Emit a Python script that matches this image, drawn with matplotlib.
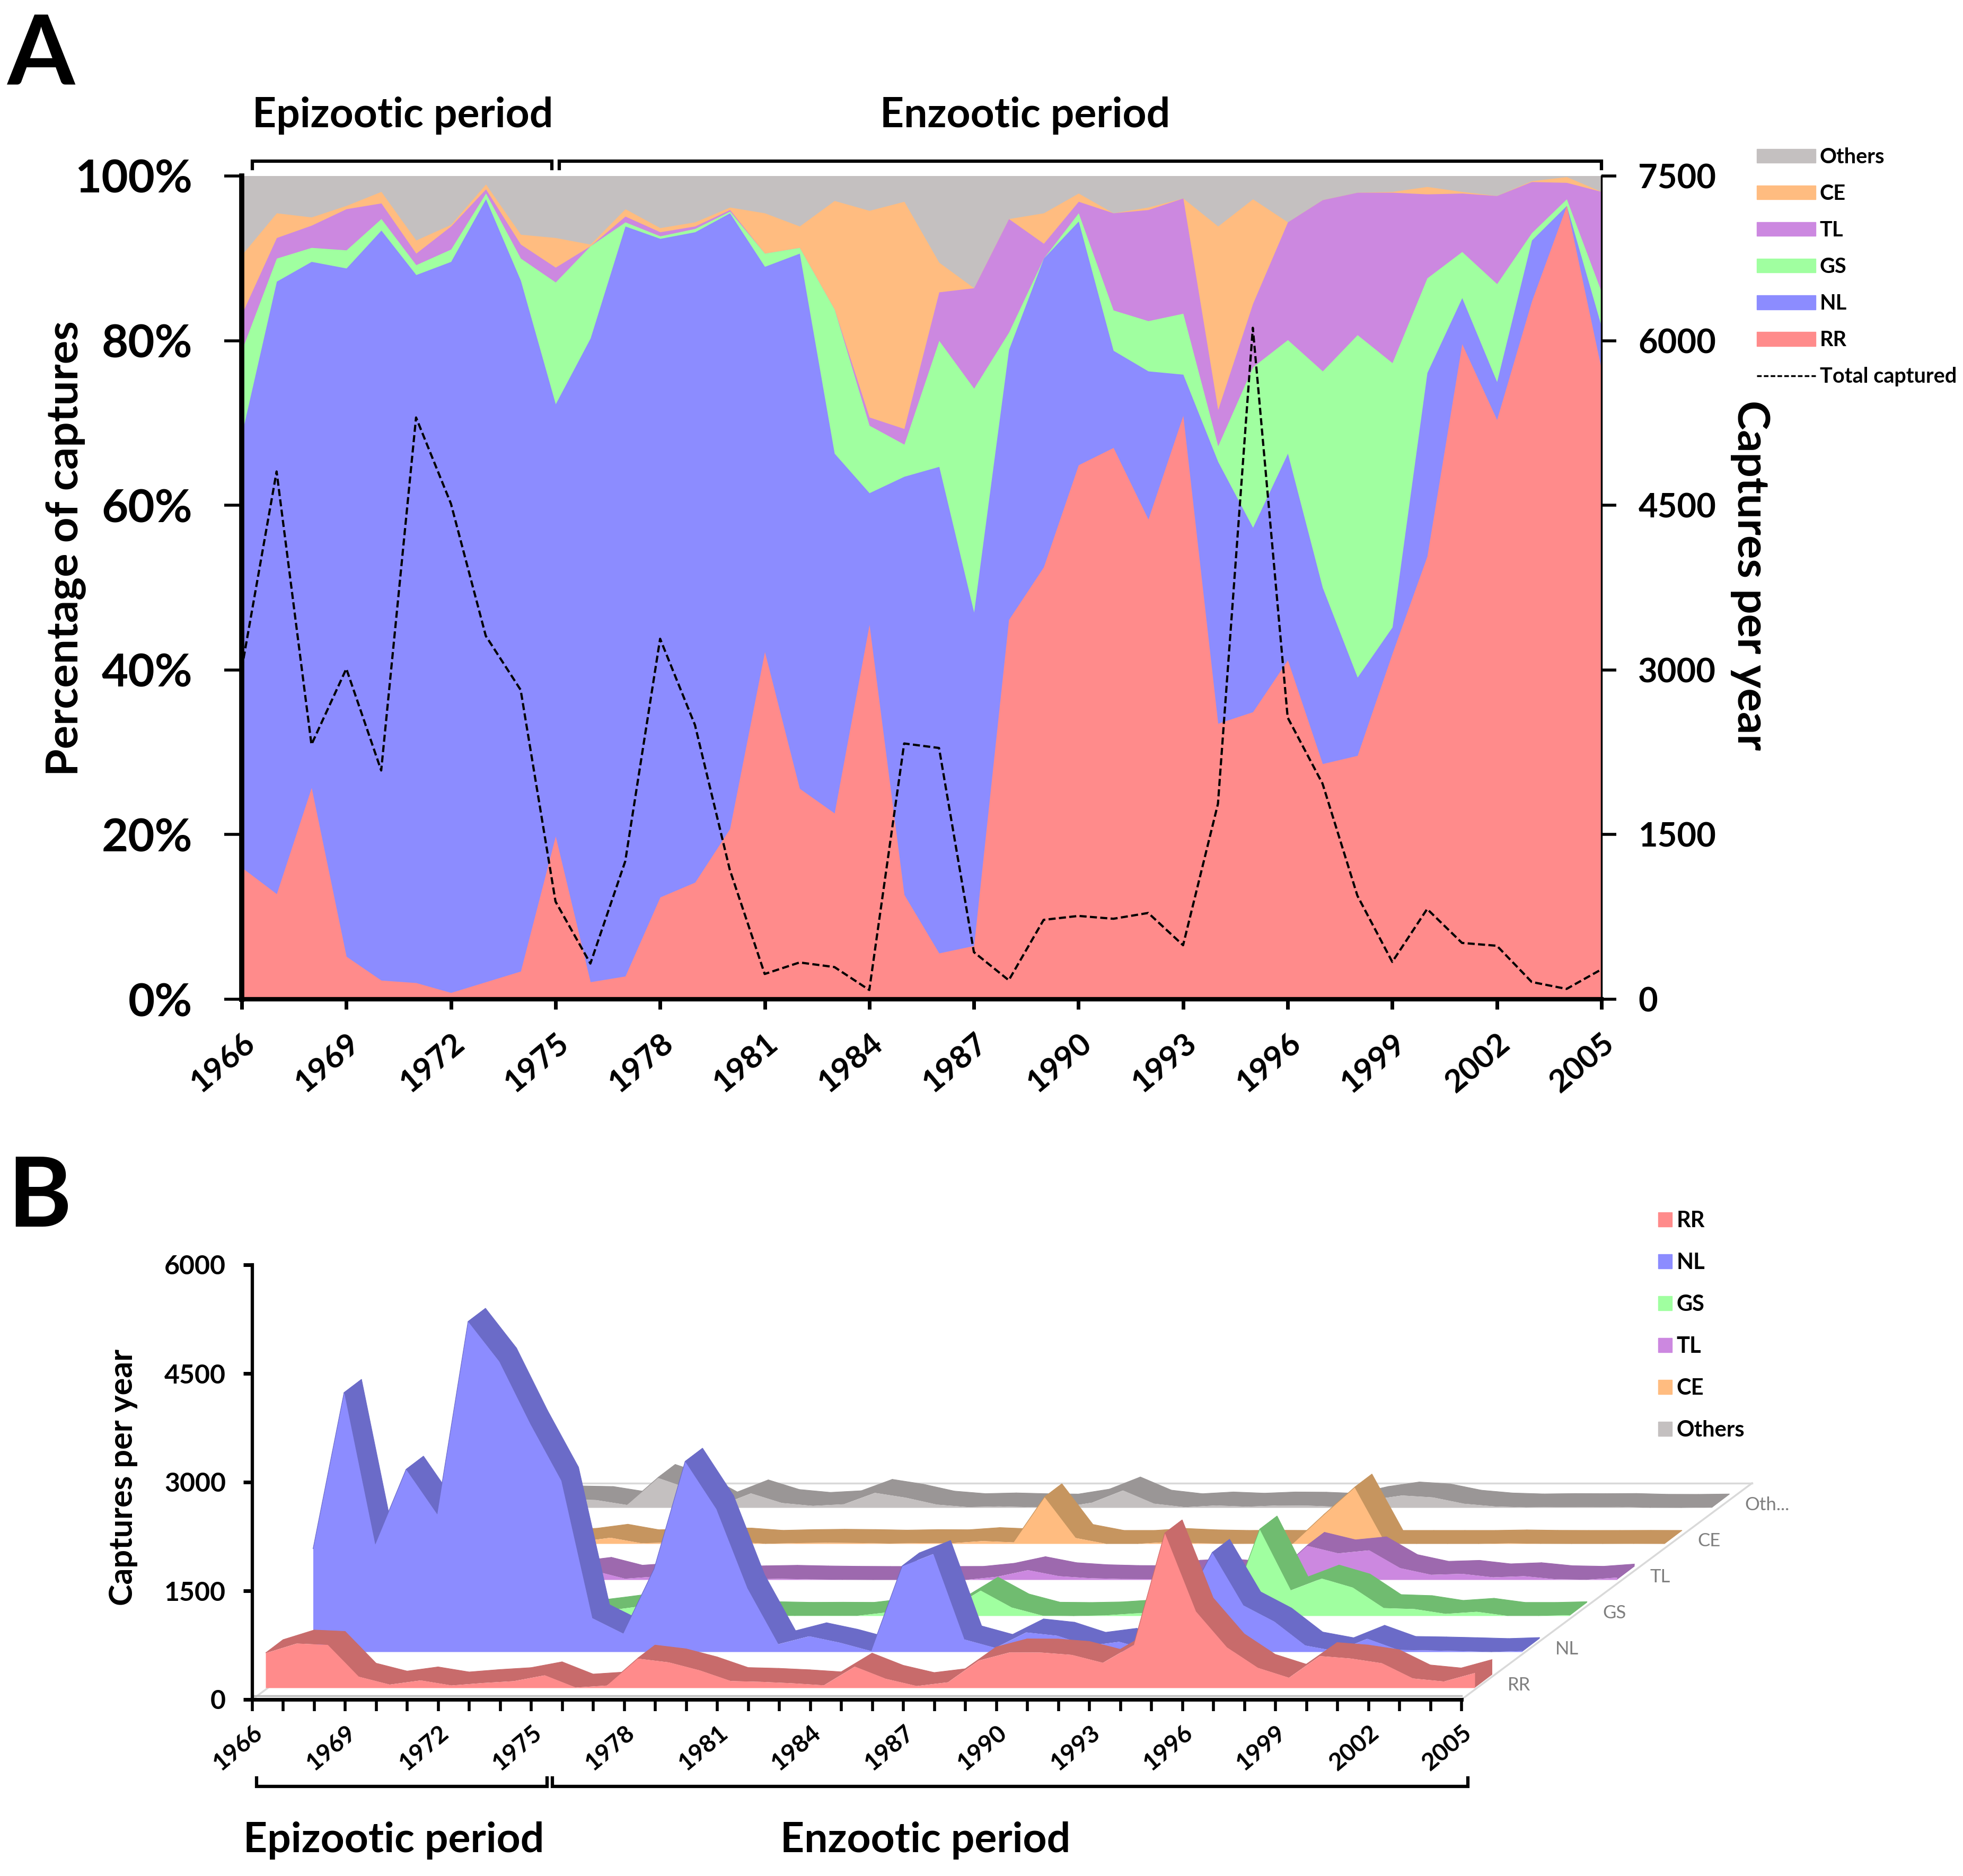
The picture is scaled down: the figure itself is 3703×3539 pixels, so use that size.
import numpy as np
import matplotlib
matplotlib.use("Agg")
import matplotlib.pyplot as plt
from matplotlib.lines import Line2D
from matplotlib.patches import Patch
from matplotlib.transforms import Affine2D, blended_transform_factory

plt.rcParams['font.family'] = ['Lato', 'DejaVu Sans']

years = list(range(1966, 2006))
tick_years = list(range(1966, 2006, 3))

# panel A, upper edge of each stacked layer (percent)
rr_top = [16, 12.8, 25.7, 5.2, 2.3, 2, 0.8, 2.1, 3.4, 19.8, 2.1, 2.8, 12.4, 14.2, 20.7, 42.2, 25.6, 22.6, 45.5, 12.7,
          5.6, 6.5, 46.1, 52.5, 64.9, 67, 58.3, 70.9, 33.5, 34.9, 41.2, 28.6, 29.6, 42, 53.8, 79.6, 70.4, 84.8, 96.4, 76.5]
nl_top = [68.6, 87.2, 89.6, 88.8, 93.4, 88, 89.6, 97.2, 87.3, 72.3, 80.3, 93.9, 92.4, 93.2, 95.5, 89, 90.6, 66.3, 61.5, 63.5,
          64.7, 47, 78.9, 90, 94.5, 78.8, 76.3, 75.9, 65.3, 57.3, 66.3, 50, 39.1, 45.2, 76.1, 85.2, 75, 92.2, 96.4, 81.7]
gs_top = [78.8, 90, 91.3, 91, 94.8, 89.2, 91.1, 97.9, 90, 87.1, 91.5, 94.4, 92.7, 93.6, 95.7, 90.6, 91.3, 83.8, 69.7, 67.4,
          80, 74.2, 81, 90, 95.5, 83.7, 82.4, 83.3, 67.2, 76.8, 80.1, 76.3, 80.7, 77.3, 87.6, 90.8, 86.9, 93.1, 97.2, 85.9]
tl_top = [83.2, 92.5, 94, 96, 96.7, 90.6, 93.9, 98.4, 91.7, 88.9, 91.5, 95.1, 93.2, 93.9, 95.9, 90.6, 91.3, 83.8, 70.7, 69.3,
          85.9, 86.4, 94.8, 91.8, 96.9, 95.5, 95.9, 97.3, 71.6, 84.5, 94.4, 97.1, 98, 98, 97.8, 97.9, 97.6, 99.3, 99.2, 98.1]
ce_top = [90.4, 95.5, 95, 96.4, 98.1, 92.2, 94.1, 99, 92.9, 92.5, 91.7, 96, 93.7, 94.4, 96.2, 95.5, 93.9, 97, 95.8, 96.9,
          89.5, 86.4, 94.8, 95.5, 97.9, 95.5, 96.2, 97.3, 93.9, 97.2, 94.4, 97.1, 98, 98.1, 98.7, 98.1, 97.6, 99.4, 99.9, 98.1]
total_captured = [3011, 4808, 2320, 3011, 2084, 5300, 4515, 3310, 2818, 890, 325, 1257, 3284, 2498, 1178, 230, 335, 293, 84, 2330,
                  2289, 429, 173, 723, 759, 733, 786, 492, 1780, 6117, 2566, 1964, 943, 340, 822, 513, 487, 157, 94, 272]

# panel B, captures per year
rr_caps = [482, 615, 596, 157, 48, 106, 36, 70, 96, 176, 7, 35, 407, 355, 244, 97, 86, 66, 38, 296,
           128, 28, 80, 380, 493, 491, 458, 349, 596, 2135, 1057, 562, 279, 143, 442, 408, 343, 133, 91, 208]
nl_caps = [1420, 3577, 1482, 2517, 1899, 4558, 4009, 3148, 2364, 467, 254, 1145, 2627, 1973, 881, 108, 218, 128, 13, 1184,
           1353, 174, 57, 271, 225, 86, 141, 25, 566, 1370, 644, 420, 90, 11, 183, 29, 22, 12, 0, 14]
gs_caps = [307, 135, 39, 66, 29, 64, 68, 23, 76, 132, 36, 6, 10, 10, 2, 4, 2, 51, 7, 91,
           350, 117, 4, 0, 8, 36, 48, 36, 34, 1193, 354, 517, 392, 109, 95, 29, 58, 1, 1, 11]
tl_caps = [132, 120, 63, 151, 40, 74, 126, 17, 48, 16, 0, 9, 16, 7, 2, 0, 0, 0, 1, 44,
           135, 52, 24, 13, 11, 86, 106, 69, 78, 471, 367, 409, 163, 71, 84, 36, 52, 10, 2, 33]
ce_caps = [217, 144, 23, 12, 29, 85, 9, 20, 34, 32, 1, 11, 16, 12, 4, 11, 9, 39, 21, 643,
           82, 0, 0, 27, 8, 0, 2, 0, 397, 777, 0, 0, 0, 0, 7, 1, 0, 0, 1, 0]
oth_caps = [289, 216, 116, 108, 40, 413, 266, 33, 200, 67, 27, 50, 207, 140, 45, 10, 20, 9, 4, 72,
            240, 58, 9, 33, 16, 33, 30, 13, 109, 171, 144, 57, 19, 6, 11, 10, 12, 1, 0, 5]

RR, NL, GS, TL, CE, OTH = '#FF8B8B', '#8C8CFF', '#A0FFA0', '#CC88E0', '#FFBC80', '#C4C0C0'
RR_D, NL_D, GS_D, TL_D, CE_D, OTH_D = '#C86B6B', '#6B6BC8', '#70BC70', '#9D69AE', '#C6955F', '#9A9696'

W, H = 3703, 3539
fig = plt.figure(figsize=(W / 100, H / 100), dpi=100, facecolor='white')


def axes_px(left, top, right, bottom):
    return fig.add_axes([left / W, 1 - bottom / H, (right - left) / W, (bottom - top) / H])


def bracket(ax, x0, x1, y_low, y_high, trans):
    ax.plot([x0, x0, x1, x1], [y_low, y_high, y_high, y_low], color='black', lw=4.5,
            transform=trans, clip_on=False, solid_joinstyle='miter')


# ---- panel A ----
ax = axes_px(456, 332, 3021, 1885)
ax.fill_between(years, 0, 100, color=OTH, lw=0)
ax.fill_between(years, 0, ce_top, color=CE, lw=0)
ax.fill_between(years, 0, tl_top, color=TL, lw=0)
ax.fill_between(years, 0, gs_top, color=GS, lw=0)
ax.fill_between(years, 0, nl_top, color=NL, lw=0)
ax.fill_between(years, 0, rr_top, color=RR, lw=0)
ax.set_xlim(1966, 2005)
ax.set_ylim(0, 100)
ax.set_yticks(range(0, 101, 20))
ax.set_yticklabels(['%d%%' % v for v in range(0, 101, 20)], fontsize=62.5, fontweight='bold')
ax.set_xticks(tick_years)
ax.set_xticklabels(tick_years, fontsize=43, fontweight='bold', rotation=40, ha='right', rotation_mode='anchor')
ax.tick_params(axis='y', length=24, width=4, pad=43)
ax.tick_params(axis='x', length=14, width=5, pad=26)
ax.spines['top'].set_visible(False)
ax.spines['right'].set_visible(False)
ax.spines['left'].set_linewidth(7)
ax.spines['bottom'].set_linewidth(6)
fig.text(125 / W, 1 - 1035 / H, 'Percentage of captures', fontsize=60, fontweight='bold', rotation=90,
         ha='center', va='center')

ax2 = ax.twinx()
ax2.plot(years, total_captured, color='black', lw=3, linestyle=(0, (3.2, 1.5)))
ax2.set_ylim(0, 7500)
ax2.set_yticks(range(0, 7501, 1500))
ax2.set_yticklabels(range(0, 7501, 1500), fontsize=45.5, fontweight='bold')
ax2.tick_params(axis='y', length=20, width=4, pad=30)
for s in ['top', 'left', 'bottom']:
    ax2.spines[s].set_visible(False)
ax2.spines['right'].set_linewidth(2.5)
fig.text(3302 / W, 1 - 1085 / H, 'Captures per year', fontsize=60, fontweight='bold', rotation=-90, ha='center', va='center')

tr = blended_transform_factory(ax.transData, ax.transAxes)
bracket(ax, 1966.3, 1974.9, 1.009, 1.018, tr)
bracket(ax, 1975.1, 2005, 1.009, 1.018, tr)
fig.text(760 / W, 1 - 218 / H, 'Epizootic period', fontsize=56.5, fontweight='bold', ha='center', va='center')
fig.text(1934 / W, 1 - 218 / H, 'Enzootic period', fontsize=56.5, fontweight='bold', ha='center', va='center')
fig.text(77 / W, 1 - 108 / H, 'A', fontsize=132, fontweight='bold', ha='center', va='center')

handles = [Patch(color=OTH, label='Others'), Patch(color=CE, label='CE'), Patch(color=TL, label='TL'),
           Patch(color=GS, label='GS'), Patch(color=NL, label='NL'), Patch(color=RR, label='RR'),
           Line2D([], [], color='black', lw=2.5, linestyle=(0, (2.5, 1.2)), label='Total captured')]
fig.legend(handles=handles, loc='upper left', bbox_to_anchor=(3314 / W, 1 - 278 / H), frameon=False, borderpad=0,
           borderaxespad=0, labelspacing=0.81, handlelength=2.8, handleheight=0.65, handletextpad=0.2,
           prop={'weight': 'bold', 'size': 28.5})

# ---- panel B ----
bx = axes_px(476, 2386, 2757, 3206)
bx.set_xlim(1966, 2005)
bx.set_ylim(0, 6000)
bx.set_yticks(range(0, 6001, 1500))
bx.set_yticklabels(range(0, 6001, 1500), fontsize=36, fontweight='bold')
bx.set_xticks(years)
bx.set_xticklabels([str(y) if y in tick_years else '' for y in years], fontsize=33, fontweight='bold',
                   rotation=40, ha='right', rotation_mode='anchor')
bx.tick_params(axis='y', length=12, width=5, pad=24)
bx.tick_params(axis='x', length=16, width=4, pad=14)
bx.spines['top'].set_visible(False)
bx.spines['right'].set_visible(False)
bx.spines['left'].set_linewidth(4.5)
bx.spines['bottom'].set_linewidth(5)
fig.text(232 / W, 1 - 2787 / H, 'Captures per year', fontsize=44, fontweight='bold', rotation=90, ha='center', va='center')

STEP_X, STEP_Y = 89.5, 68       # screen shift between two rows of the oblique chart
START_X, START_Y = 25, 22       # shift of the front row from the axis
DEPTH_X, DEPTH_Y = 33, 25       # thickness of each ribbon

# floor outline
back_x, back_y = 548, 408
p0 = bx.transData.transform((1966, 0))
p1 = bx.transData.transform((2005, 0))
for p in (p0, p1):
    bx.plot([p[0], p[0] + back_x], [p[1], p[1] + back_y], color='#D9D9D9', lw=2.5, transform=None,
            clip_on=False, zorder=0.5)
bx.plot([p0[0] + back_x, p1[0] + back_x], [p0[1] + back_y] * 2, color='#D9D9D9', lw=2.5, transform=None,
        clip_on=False, zorder=0.5)
bx.plot([p0[0], p1[0]], [p0[1] + 7] * 2, color='#BBBBBB', lw=2.5, transform=None, clip_on=False, zorder=0.5)

rows = [(oth_caps, OTH, OTH_D, 'Oth...'), (ce_caps, CE, CE_D, 'CE'), (tl_caps, TL, TL_D, 'TL'),
        (gs_caps, GS, GS_D, 'GS'), (nl_caps, NL, NL_D, 'NL'), (rr_caps, RR, RR_D, 'RR')]
n_rows = len(rows)
for i, (caps, light, dark, name) in enumerate(rows):
    depth = n_rows - 1 - i
    dx = START_X + depth * STEP_X
    dy = START_Y + depth * STEP_Y
    z = 2 + i
    # ribbon on top of the area, one quad per year
    p_front = bx.transData + Affine2D().translate(dx, dy)
    front_xy = p_front.transform(np.column_stack([years, caps]))
    for k in range(len(years) - 1):
        quad = np.array([front_xy[k], front_xy[k + 1],
                         front_xy[k + 1] + [DEPTH_X, DEPTH_Y], front_xy[k] + [DEPTH_X, DEPTH_Y]])
        bx.fill(quad[:, 0], quad[:, 1], color=dark, lw=0.8, transform=None, clip_on=False, zorder=z)
    # end cap on the right
    base = p_front.transform((2005, 0))
    top = front_xy[-1]
    cap = np.array([base, top, top + [DEPTH_X, DEPTH_Y], base + [DEPTH_X, DEPTH_Y]])
    bx.fill(cap[:, 0], cap[:, 1], color=dark, lw=0, transform=None, clip_on=False, zorder=z)
    bx.fill_between(years, 0, caps, color=light, lw=0, transform=p_front, clip_on=False, zorder=z + 0.5)
    bx.text(2005, 0, name, color='#7F7F7F', fontsize=25, ha='left', va='center', clip_on=False,
            transform=bx.transData + Affine2D().translate(dx + 62, dy + 5), zorder=10)

bx_tr = blended_transform_factory(bx.transData, bx.transAxes)
bracket(bx, 1966.14, 1975.5, -0.18, -0.2, bx_tr)
bracket(bx, 1975.67, 2005.2, -0.18, -0.2, bx_tr)
fig.text(743 / W, 1 - 3472 / H, 'Epizootic period', fontsize=56.5, fontweight='bold', ha='center', va='center')
fig.text(1746 / W, 1 - 3472 / H, 'Enzootic period', fontsize=56.5, fontweight='bold', ha='center', va='center')
fig.text(75 / W, 1 - 2262 / H, 'B', fontsize=132, fontweight='bold', ha='center', va='center')

handles_b = [Patch(color=RR, label='RR'), Patch(color=NL, label='NL'), Patch(color=GS, label='GS'),
             Patch(color=TL, label='TL'), Patch(color=CE, label='CE'), Patch(color=OTH, label='Others')]
fig.legend(handles=handles_b, loc='upper left', bbox_to_anchor=(3128 / W, 1 - 2284 / H), frameon=False, borderpad=0,
           borderaxespad=0, labelspacing=0.985, handlelength=0.62, handleheight=0.62, handletextpad=0.2,
           prop={'weight': 'bold', 'size': 30})

fig.savefig('out.png', dpi=100)
